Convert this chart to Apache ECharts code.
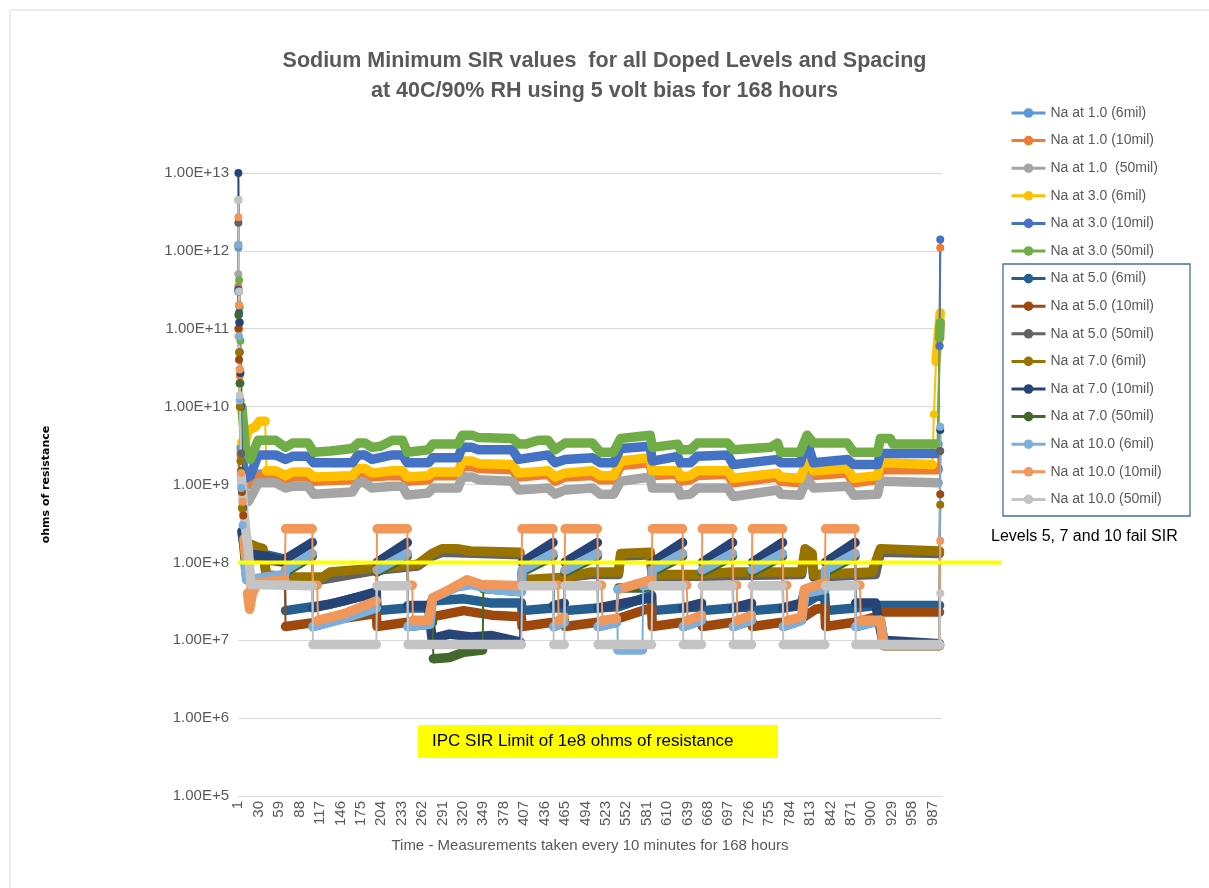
<!DOCTYPE html>
<html>
<head>
<meta charset="utf-8">
<title>Sodium Minimum SIR values</title>
<script src="https://cdn.jsdelivr.net/npm/echarts@6/dist/echarts.min.js"></script>
<style>
html, body { margin: 0; padding: 0; background: #fff; }
#chart { width: 1209px; height: 888px; }
</style>
</head>
<body>
<div id="chart"></div>
<script>
// measurement number on the x axis (1 .. 1000)
const categoryCount = 1000;
const categories = [];
for (let i = 1; i <= categoryCount; i++) categories.push(String(i));

const seriesNames = [
  'Na at 1.0 (6mil)', 'Na at 1.0 (10mil)', 'Na at 1.0  (50mil)',
  'Na at 3.0 (6mil)', 'Na at 3.0 (10mil)', 'Na at 3.0 (50mil)',
  'Na at 5.0 (6mil)', 'Na at 5.0 (10mil)', 'Na at 5.0 (50mil)',
  'Na at 7.0 (6mil)', 'Na at 7.0 (10mil)', 'Na at 7.0 (50mil)',
  'Na at 10.0 (6mil)', 'Na at 10.0 (10mil)', 'Na at 10.0 (50mil)'
];
const seriesColors = [
  '#5B9BD5', '#ED7D31', '#A5A5A5', '#FFC000', '#4472C4', '#70AD47',
  '#255E91', '#9E480E', '#636363', '#997300', '#264478', '#43682B',
  '#7CAFDD', '#F1975A', '#C4C4C4'
];

const na1_6mil = [[0, 1.1e12], [1, 1.5e11], [2, 3e10], [4, 3e9], [8, 1.2e9], [17, 1.1e9], [28, 1.35e9], [53, 1.35e9], [67, 1.2e9], [77, 1.3e9], [99, 1.3e9], [107, 1.15e9], [162, 1.2e9], [170, 1.45e9], [180, 1.45e9], [190, 1.3e9], [219, 1.35e9], [233, 1.35e9], [240, 1.15e9], [270, 1.2e9], [276, 1.35e9], [312, 1.35e9], [318, 1.75e9], [332, 1.75e9], [341, 1.65e9], [389, 1.6e9], [398, 1.3e9], [440, 1.4e9], [450, 1.15e9], [464, 1.3e9], [503, 1.35e9], [514, 1.2e9], [533, 1.2e9], [543, 1.8e9], [585, 2.0e9], [588, 1.35e9], [624, 1.4e9], [628, 1.15e9], [642, 1.2e9], [652, 1.35e9], [695, 1.4e9], [703, 1.1e9], [766, 1.3e9], [770, 1.15e9], [798, 1.1e9], [808, 1.8e9], [817, 1.35e9], [865, 1.45e9], [874, 1.1e9], [908, 1.2e9], [912, 1.6e9], [994, 1.6e9]];
const na1_10mil = [[0, 3.5e11], [1, 1.0e11], [2, 2.5e10], [4, 2.5e9], [8, 1.1e9], [17, 1.0e9], [28, 1.3e9], [53, 1.3e9], [67, 1.15e9], [77, 1.25e9], [99, 1.25e9], [107, 1.1e9], [162, 1.15e9], [170, 1.4e9], [180, 1.4e9], [190, 1.25e9], [219, 1.3e9], [233, 1.3e9], [240, 1.1e9], [270, 1.15e9], [276, 1.3e9], [312, 1.3e9], [318, 1.7e9], [332, 1.7e9], [341, 1.6e9], [389, 1.55e9], [398, 1.25e9], [440, 1.35e9], [450, 1.1e9], [464, 1.25e9], [503, 1.3e9], [514, 1.15e9], [533, 1.15e9], [543, 1.75e9], [585, 1.9e9], [588, 1.3e9], [624, 1.35e9], [628, 1.1e9], [642, 1.15e9], [652, 1.3e9], [695, 1.35e9], [703, 1.05e9], [766, 1.25e9], [770, 1.1e9], [798, 1.05e9], [808, 1.75e9], [817, 1.3e9], [865, 1.4e9], [874, 1.05e9], [908, 1.15e9], [912, 1.55e9], [994, 1.55e9], [996, 6e10], [997, 1.1e12]];
const na1_50mil = [[0, 5e11], [2, 2e10], [5, 1.5e9], [10, 6e8], [14, 6e8], [20, 7.5e8], [28, 1.05e9], [53, 1.05e9], [67, 9.0e8], [77, 9.5e8], [99, 9.5e8], [107, 7.5e8], [162, 8.0e8], [170, 1.05e9], [180, 1.05e9], [190, 9.0e8], [219, 9.5e8], [233, 9.5e8], [240, 7.3e8], [270, 7.8e8], [276, 9.0e8], [312, 9.0e8], [318, 1.25e9], [332, 1.25e9], [341, 1.15e9], [389, 1.1e9], [398, 8.5e8], [440, 9.0e8], [450, 7.5e8], [464, 8.5e8], [503, 9.0e8], [514, 7.5e8], [533, 7.5e8], [543, 1.1e9], [585, 1.25e9], [588, 9.0e8], [624, 9.0e8], [628, 7.3e8], [642, 7.5e8], [652, 9.0e8], [695, 9.0e8], [703, 7.0e8], [766, 8.5e8], [770, 7.5e8], [798, 7.3e8], [808, 1.2e9], [817, 9.0e8], [865, 9.5e8], [874, 7.3e8], [908, 7.5e8], [912, 1.1e9], [994, 1.05e9]];
const na3_6mil = [[0, 8e10], [2, 3e10], [5, 3.5e9], [10, 3.5e9], [14, 5.0e9], [24, 5.5e9], [30, 6.5e9], [38, 6.5e9], [40, 1.5e9], [53, 1.5e9], [67, 1.3e9], [77, 1.45e9], [99, 1.45e9], [107, 1.25e9], [162, 1.3e9], [170, 1.6e9], [180, 1.6e9], [190, 1.4e9], [219, 1.5e9], [233, 1.5e9], [240, 1.25e9], [270, 1.3e9], [276, 1.45e9], [312, 1.45e9], [318, 2.0e9], [332, 2.0e9], [341, 1.85e9], [389, 1.8e9], [398, 1.4e9], [440, 1.5e9], [450, 1.25e9], [464, 1.4e9], [503, 1.5e9], [514, 1.3e9], [533, 1.3e9], [543, 2.0e9], [585, 2.2e9], [588, 1.5e9], [624, 1.5e9], [628, 1.25e9], [642, 1.3e9], [652, 1.5e9], [695, 1.5e9], [703, 1.2e9], [766, 1.4e9], [770, 1.25e9], [798, 1.2e9], [808, 2.0e9], [817, 1.5e9], [865, 1.6e9], [874, 1.2e9], [908, 1.3e9], [912, 1.9e9], [986, 1.8e9], [988, 8e9], [991, 3.8e10], [997, 1.6e11]];
const na3_10mil = [[0, 3e11], [1, 1.2e11], [3, 2e10], [6, 2e9], [10, 1.2e9], [17, 1.3e9], [28, 2.4e9], [53, 2.4e9], [67, 2.1e9], [77, 2.3e9], [99, 2.3e9], [107, 1.9e9], [162, 1.9e9], [170, 2.4e9], [180, 2.4e9], [190, 2.1e9], [219, 2.4e9], [233, 2.4e9], [240, 1.9e9], [270, 1.9e9], [276, 2.2e9], [312, 2.2e9], [318, 3.0e9], [332, 3.0e9], [341, 2.8e9], [389, 2.8e9], [398, 2.1e9], [440, 2.4e9], [450, 1.9e9], [464, 2.1e9], [503, 2.2e9], [514, 1.9e9], [533, 1.9e9], [543, 2.9e9], [585, 3.1e9], [588, 2.0e9], [624, 2.3e9], [628, 1.9e9], [642, 1.9e9], [652, 2.3e9], [695, 2.4e9], [703, 1.8e9], [766, 2.1e9], [770, 1.9e9], [798, 1.9e9], [808, 3.5e9], [817, 1.9e9], [865, 2.1e9], [874, 1.8e9], [908, 1.8e9], [912, 2.5e9], [993, 2.5e9], [996, 6e10], [997, 1.4e12]];
const na3_50mil = [[0, 4.5e12], [1, 4.2e11], [2, 1.9e11], [3, 7e10], [5, 1e10], [10, 3e9], [17, 2.1e9], [28, 3.7e9], [53, 3.7e9], [67, 3.0e9], [77, 3.4e9], [99, 3.4e9], [107, 2.6e9], [131, 2.7e9], [162, 2.9e9], [170, 3.4e9], [180, 3.4e9], [190, 3.0e9], [202, 3.1e9], [219, 3.7e9], [233, 3.7e9], [240, 2.6e9], [270, 2.8e9], [276, 3.3e9], [312, 3.3e9], [318, 4.3e9], [332, 4.3e9], [341, 4.0e9], [389, 3.9e9], [398, 3.3e9], [408, 3.3e9], [426, 3.7e9], [440, 3.7e9], [450, 2.8e9], [464, 3.4e9], [503, 3.4e9], [514, 2.6e9], [533, 2.6e9], [543, 3.9e9], [585, 4.3e9], [588, 3.0e9], [624, 3.3e9], [628, 2.8e9], [642, 2.8e9], [652, 3.4e9], [695, 3.4e9], [703, 2.8e9], [756, 3.0e9], [766, 3.4e9], [770, 2.6e9], [798, 2.6e9], [808, 4.3e9], [817, 3.4e9], [865, 3.4e9], [874, 2.6e9], [908, 2.6e9], [912, 3.9e9], [926, 3.9e9], [930, 3.3e9], [994, 3.3e9], [996, 7.5e10], [997, 1.2e11]];
const na5_6mil = [[0, 3.2e11], [1, 1.6e11], [2, 5e10], [4, 1e10], [6, 5e8], [9, 1.6e8], [14, 1.3e8], [40, 1.25e8], [66, 1.1e8], [67, 2.4e7], [105, 2.7e7], [130, 2.9e7], [160, 3.4e7], [196, 4.0e7], [197, 2.4e7], [240, 2.6e7], [270, 2.6e7], [275, 3.2e7], [320, 3.4e7], [360, 3.0e7], [402, 3.0e7], [403, 2.4e7], [447, 2.6e7], [463, 2.6e7], [464, 2.4e7], [510, 2.6e7], [540, 2.7e7], [580, 3.6e7], [587, 3.8e7], [588, 2.4e7], [631, 2.6e7], [658, 2.7e7], [659, 2.4e7], [702, 2.6e7], [729, 2.7e7], [730, 2.4e7], [773, 2.6e7], [800, 2.8e7], [820, 3.6e7], [833, 3.8e7], [834, 2.4e7], [876, 2.6e7], [905, 2.8e7], [996, 2.8e7]];
const na5_10mil = [[0, 1.0e11], [1, 4e10], [3, 1.2e10], [5, 8e8], [7, 4e8], [10, 2e8], [14, 1.2e8], [30, 1.1e8], [66, 1.0e8], [67, 1.5e7], [130, 1.8e7], [196, 2.2e7], [197, 1.5e7], [240, 1.7e7], [270, 1.8e7], [275, 2.0e7], [320, 2.4e7], [360, 2.1e7], [402, 2.0e7], [403, 1.5e7], [447, 1.7e7], [463, 1.8e7], [464, 1.5e7], [510, 1.7e7], [540, 1.9e7], [580, 2.5e7], [587, 2.6e7], [588, 1.5e7], [631, 1.7e7], [658, 1.8e7], [659, 1.5e7], [702, 1.7e7], [729, 1.8e7], [730, 1.5e7], [773, 1.7e7], [800, 1.9e7], [820, 2.5e7], [833, 2.6e7], [834, 1.5e7], [876, 1.7e7], [905, 2.0e7], [915, 2.3e7], [996, 2.3e7], [997, 7.5e8]];
const na5_50mil = [[0, 2.3e12], [1, 2e11], [2, 2e10], [4, 2.5e9], [7, 5e8], [10, 2e8], [14, 1.4e8], [35, 1.3e8], [40, 6.5e7], [66, 6e7], [120, 6e7], [200, 8e7], [255, 9e7], [275, 1.2e8], [290, 1.35e8], [400, 1.25e8], [403, 5.5e7], [500, 7e7], [540, 7e7], [543, 1.2e8], [585, 1.25e8], [588, 6.5e7], [800, 7e7], [805, 1.35e8], [815, 1.2e8], [817, 6.5e7], [905, 7e7], [912, 1.35e8], [996, 1.3e8], [997, 2.7e9]];
const na7_6mil = [[0, 1.2e12], [1, 5e10], [2, 1e10], [3, 2e9], [5, 5e8], [7, 2.2e8], [12, 1.8e8], [25, 1.6e8], [35, 1.5e8], [40, 7e7], [66, 6.5e7], [120, 6.5e7], [130, 7.5e7], [200, 8.5e7], [255, 9.5e7], [275, 1.3e8], [290, 1.5e8], [310, 1.5e8], [330, 1.4e8], [400, 1.35e8], [403, 6e7], [470, 6.5e7], [500, 7.5e7], [540, 7.5e7], [543, 1.3e8], [585, 1.35e8], [588, 7e7], [650, 7e7], [700, 7.5e7], [800, 7.5e7], [805, 1.5e8], [815, 1.3e8], [817, 7e7], [900, 7.5e7], [912, 1.5e8], [996, 1.4e8], [997, 5.5e8]];
const na7_10mil = [[0, 1e13], [1, 3e11], [2, 1.2e11], [3, 2.7e10], [5, 2.5e8], [7, 1.9e8], [10, 1.3e8], [40, 1.2e8], [66, 1.0e8], [67, 1.1e8], [105, 1.8e8], [106, 2.6e7], [150, 3.2e7], [196, 4.2e7], [197, 1.0e8], [240, 1.8e8], [241, 2.8e7], [270, 2.8e7], [275, 1.05e7], [300, 1.2e7], [330, 1.1e7], [360, 1.15e7], [400, 9.5e6], [403, 1.0e8], [447, 1.8e8], [448, 2.8e7], [463, 3e7], [464, 1.0e8], [510, 1.8e8], [511, 2.6e7], [587, 3.5e7], [588, 1.0e8], [631, 1.8e8], [632, 2.6e7], [658, 3e7], [659, 1e8], [702, 1.8e8], [703, 2.6e7], [729, 3e7], [730, 1e8], [773, 1.8e8], [774, 2.6e7], [800, 3e7], [805, 4.5e7], [833, 5e7], [834, 1e8], [876, 1.8e8], [877, 3e7], [905, 3e7], [915, 1e7], [996, 9e6], [997, 5e9]];
const na7_50mil = [[0, 1.5e11], [2, 2e10], [4, 1.5e9], [7, 2e8], [12, 6e7], [66, 6.5e7], [67, 7.5e7], [105, 1.2e8], [106, 1.5e7], [196, 2.5e7], [197, 7.5e7], [240, 1.2e8], [241, 1.5e7], [272, 1.6e7], [276, 1.7e7], [277, 5.8e6], [300, 6e6], [320, 7e6], [347, 7.5e6], [348, 4.6e7], [360, 4.5e7], [402, 4.2e7], [403, 7.5e7], [447, 1.2e8], [448, 1.5e7], [463, 1.7e7], [464, 7.5e7], [510, 1.2e8], [511, 1.5e7], [537, 1.7e7], [540, 4.7e7], [575, 4.7e7], [587, 5e7], [588, 7.5e7], [631, 1.2e8], [632, 1.5e7], [658, 1.8e7], [659, 7.5e7], [702, 1.2e8], [703, 1.5e7], [729, 1.8e7], [730, 7.5e7], [773, 1.2e8], [774, 1.5e7], [800, 1.8e7], [805, 4e7], [833, 4.5e7], [834, 7.5e7], [876, 1.2e8], [877, 1.5e7], [912, 1.8e7], [918, 8.5e6], [996, 8.5e6]];
const na10_6mil = [[0, 1.2e12], [1, 8e10], [2, 1.2e10], [4, 9e8], [6, 3e8], [9, 1e8], [12, 6e7], [40, 6.5e7], [66, 7e7], [67, 8e7], [105, 1.3e8], [106, 1.5e7], [150, 1.9e7], [196, 2.6e7], [197, 8e7], [240, 1.3e8], [241, 1.5e7], [272, 1.6e7], [276, 3.5e7], [310, 4.8e7], [330, 5.2e7], [360, 4.5e7], [402, 4.2e7], [403, 8e7], [447, 1.3e8], [448, 1.5e7], [463, 1.7e7], [464, 8e7], [510, 1.3e8], [511, 1.5e7], [537, 1.7e7], [538, 4.5e7], [539, 7.5e6], [574, 7.5e6], [575, 5e7], [587, 5.2e7], [588, 8e7], [631, 1.3e8], [632, 1.5e7], [658, 1.8e7], [659, 8e7], [702, 1.3e8], [703, 1.5e7], [729, 1.8e7], [730, 8e7], [773, 1.3e8], [774, 1.5e7], [800, 1.8e7], [805, 4e7], [833, 4.5e7], [834, 8e7], [876, 1.3e8], [877, 1.5e7], [912, 1.8e7], [918, 8.5e6], [996, 8.5e6], [997, 5.5e9]];
const na10_10mil = [[0, 2.7e12], [1, 2e11], [2, 3e10], [4, 1.4e9], [6, 6e8], [8, 2e8], [10, 1.2e8], [13, 4e7], [16, 2.5e7], [20, 4e7], [28, 5.5e7], [66, 6e7], [67, 2.7e8], [105, 2.7e8], [106, 5.1e7], [112, 5.1e7], [113, 1.8e7], [150, 2.2e7], [196, 3.2e7], [197, 2.7e8], [240, 2.7e8], [241, 5.1e7], [247, 5.1e7], [248, 1.8e7], [270, 1.8e7], [276, 3.5e7], [300, 4.5e7], [325, 6e7], [345, 5.2e7], [402, 5e7], [403, 2.7e8], [447, 2.7e8], [448, 5.1e7], [454, 5.1e7], [455, 1.8e7], [463, 2e7], [464, 2.7e8], [510, 2.7e8], [511, 5.1e7], [516, 5.1e7], [517, 1.8e7], [537, 1.9e7], [540, 4.5e7], [587, 6e7], [588, 2.7e8], [631, 2.7e8], [632, 5.1e7], [637, 5.1e7], [638, 1.8e7], [658, 2.1e7], [659, 2.7e8], [702, 2.7e8], [703, 5.1e7], [708, 5.1e7], [709, 1.8e7], [729, 2.1e7], [730, 2.7e8], [773, 2.7e8], [774, 5.1e7], [779, 5.1e7], [780, 1.8e7], [800, 2e7], [804, 4.5e7], [833, 5.5e7], [834, 2.7e8], [876, 2.7e8], [877, 5.1e7], [883, 5.1e7], [884, 1.8e7], [912, 1.8e7], [916, 8.5e6], [996, 8.5e6], [997, 1.9e8]];
const na10_50mil = [[0, 4.5e12], [1, 3e11], [2, 1.4e10], [4, 1.3e9], [6, 8e8], [8, 4.2e8], [11, 2.4e8], [14, 1.5e8], [18, 5.2e7], [105, 5e7], [106, 8.8e6], [196, 8.8e6], [197, 5e7], [240, 5e7], [241, 8.8e6], [402, 8.8e6], [403, 5e7], [447, 5e7], [448, 8.8e6], [463, 8.8e6], [464, 5e7], [510, 5e7], [511, 8.8e6], [587, 8.8e6], [588, 5e7], [631, 5e7], [632, 8.8e6], [658, 8.8e6], [659, 5e7], [702, 5e7], [703, 8.8e6], [729, 8.8e6], [730, 5e7], [773, 5e7], [774, 8.8e6], [833, 8.8e6], [834, 5e7], [876, 5e7], [877, 8.8e6], [996, 8.8e6], [997, 4e7]];

const allSeries = [
  na1_6mil, na1_10mil, na1_50mil, na3_6mil, na3_10mil, na3_50mil,
  na5_6mil, na5_10mil, na5_50mil, na7_6mil, na7_10mil, na7_50mil,
  na10_6mil, na10_10mil, na10_50mil
];

const sirLimit = 1e8;
const uiFont = 'Liberation Sans, Arial, sans-serif';

// a step this big between neighbours is drawn as a thin line, like Excel does between markers
function isJump(a, b) {
  return b[0] - a[0] <= 3 && Math.abs(Math.log10(b[1] / a[1])) > 0.3;
}
// thin line through every reading, with a marker on the lone readings
function thinData(points) {
  return points.map((p, i) => {
    const before = i === 0 || isJump(points[i - 1], p);
    const after = i === points.length - 1 || isJump(p, points[i + 1]);
    return (before && after) ? { value: p } : { value: p, symbol: 'none' };
  });
}
// thick band (the dense markers), broken at the jumps
function bandData(points) {
  const out = [];
  points.forEach((p, i) => {
    if (i > 0 && isJump(points[i - 1], p)) out.push([p[0], '-']);
    out.push(p);
  });
  return out;
}

const series = [];
allSeries.forEach((pts, k) => {
  const color = seriesColors[k];
  series.push({
    name: seriesNames[k],
    type: 'line',
    data: thinData(pts),
    symbol: 'circle',
    symbolSize: 8,
    showAllSymbol: true,
    lineStyle: { width: 2, color: color },
    itemStyle: { color: color },
    silent: true
  });
  series.push({
    name: seriesNames[k],
    type: 'line',
    data: bandData(pts),
    symbol: 'none',
    connectNulls: false,
    lineStyle: { width: 9.5, color: color, cap: 'round', join: 'round' },
    itemStyle: { color: color },
    silent: true
  });
});

const chart = echarts.init(document.getElementById('chart'));
chart.setOption({
  animation: false,
  backgroundColor: '#ffffff',
  title: {
    text: 'Sodium Minimum SIR values  for all Doped Levels and Spacing\nat 40C/90% RH using 5 volt bias for 168 hours',
    left: 'center',
    top: 41,
    padding: [5, 17, 5, 5],
    textStyle: { fontFamily: uiFont, fontSize: 21.5, fontWeight: 'bold', color: '#595959', lineHeight: 30 }
  },
  legend: {
    orient: 'vertical',
    left: 1005,
    top: 101,
    itemWidth: 34,
    itemHeight: 12,
    itemGap: 13.6,
    data: seriesNames,
    lineStyle: { width: 3 },
    textStyle: { fontFamily: uiFont, fontSize: 14, color: '#595959', lineHeight: 14 }
  },
  grid: { left: 238, top: 173, width: 704, height: 623, containLabel: false },
  xAxis: {
    type: 'category',
    data: categories,
    boundaryGap: true,
    name: 'Time - Measurements taken every 10 minutes for 168 hours',
    nameLocation: 'middle',
    nameGap: 42,
    nameTextStyle: { fontFamily: uiFont, fontSize: 15, color: '#595959' },
    axisLine: { lineStyle: { color: '#d9d9d9', width: 1 } },
    axisTick: { show: false },
    axisLabel: { interval: 28, rotate: 90, margin: 5, fontSize: 15, color: '#595959', fontFamily: uiFont },
    splitLine: { show: false }
  },
  yAxis: {
    type: 'log',
    logBase: 10,
    min: 1e5,
    max: 1e13,
    splitNumber: 8,
    name: 'ohms of resistance',
    nameLocation: 'middle',
    nameGap: 186,
    nameRotate: 90,
    nameTextStyle: { fontFamily: 'DejaVu Sans, Verdana, sans-serif', fontSize: 11, fontWeight: 'bold', color: '#000' },
    axisLine: { show: false },
    axisTick: { show: false },
    axisLabel: {
      fontSize: 15,
      color: '#595959',
      margin: 9,
      fontFamily: uiFont,
      formatter: v => Number(v).toExponential(2).toUpperCase()
    },
    splitLine: { lineStyle: { color: '#d9d9d9', width: 1 } }
  },
  series: series
});

// annotations: limit line, boxed legend group, notes
const limitY = chart.convertToPixel({ yAxisIndex: 0 }, sirLimit);
chart.setOption({
  graphic: [
    { id: 'frame', type: 'rect', z: 0, shape: { x: 10, y: 10, width: 1220, height: 900 }, style: { fill: 'none', stroke: '#d9d9d9', lineWidth: 1 } },
    { id: 'limit', type: 'line', z: 100, shape: { x1: 238, y1: limitY, x2: 1001, y2: limitY }, style: { stroke: '#ffff00', lineWidth: 4 } },
    { id: 'box', type: 'rect', z: 100, shape: { x: 1003, y: 264, width: 187, height: 252 }, style: { fill: 'none', stroke: '#41719C', lineWidth: 1.3 } },
    { id: 'fail', type: 'text', z: 100, style: { x: 991, y: 537, text: 'Levels 5, 7 and 10 fail SIR', fill: '#000', font: '16px Liberation Sans, Arial, sans-serif', textVerticalAlign: 'middle' } },
    { id: 'ipcBox', type: 'rect', z: 100, shape: { x: 418, y: 725, width: 360, height: 33 }, style: { fill: '#ffff00' } },
    { id: 'ipc', type: 'text', z: 101, style: { x: 432, y: 741, text: 'IPC SIR Limit of 1e8 ohms of resistance', fill: '#000', font: '17px Liberation Sans, Arial, sans-serif', textVerticalAlign: 'middle' } }
  ]
});
</script>
</body>
</html>
